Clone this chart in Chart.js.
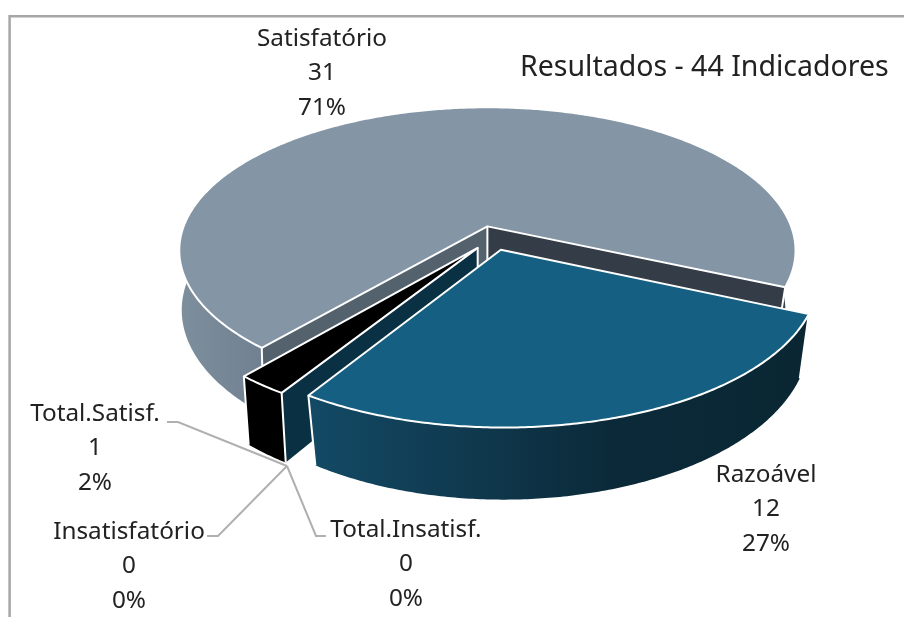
<!DOCTYPE html>
<html><head><meta charset="utf-8">
<style>html,body{margin:0;padding:0;background:#fff}canvas{display:block}</style>
<script src="https://cdn.jsdelivr.net/npm/chart.js@4"></script>
</head><body>
<canvas id="c" width="904" height="617"></canvas>
<script>
const categories = ['Total.Satisf.', 'Satisfatório', 'Razoável', 'Insatisfatório', 'Total.Insatisf.'];
const values = [1, 31, 12, 0, 0];
const percentLabels = ['2%', '71%', '27%', '0%', '0%'];
const titleText = 'Resultados - 44 Indicadores';

// Perspective view of the pie's plane
const view = {cx: 487, cy: 226, rx: 303.6, ry: 139, k: 0.168, du: 0.02, dv: 0.085, depth: 58};
function project(u, v) {
  const U = u + view.du, V = v + view.dv;
  const s = 1 / (1 - view.k * V);
  return {x: view.cx + view.rx * U * s, y: view.cy + view.ry * V * s, s};
}
function lowerOf(p, st) {
  const dx = p.x - view.cx;
  return {x: view.cx + dx * (1 - (dx < 0 ? st.shrinkL : st.shrinkR)), y: p.y + view.depth * p.s};
}
function poly(ctx, pts) {
  ctx.beginPath();
  pts.forEach((p, i) => i ? ctx.lineTo(p.x, p.y) : ctx.moveTo(p.x, p.y));
  ctx.closePath();
}
function hgrad(ctx, x0, x1, stops) {
  const g = ctx.createLinearGradient(x0, 0, x1, 0);
  stops.forEach(s => g.addColorStop(s[0], s[1]));
  return g;
}
const look = {
  1: {top: '#8496a6', shrinkL: 0.008, shrinkR: 0.033,
      side: c => hgrad(c, 180, 800, [[0, '#7d8e9d'], [0.14, '#708090'], [0.9, '#4a5764'], [0.97, '#39434d']]),
      wallEnd: '#343d47', wallStart: '#54626e'},
  2: {top: '#156082', shrinkL: 0.039, shrinkR: 0.028,
      side: c => hgrad(c, 308, 810, [[0, '#134a65'], [0.3, '#103a50'], [0.6, '#0b2a39'], [1, '#0a2633']]),
      wallEnd: null, wallStart: null},
  0: {top: '#000000', shrinkL: 0.02, shrinkR: 0.02, side: () => '#000000', wallEnd: null, wallStart: '#0a3044'}
};
function drawSlice(ctx, el, st) {
  const R = el.outerRadius, off = (el.options.offset || 0) / R;
  const mid = (el.startAngle + el.endAngle) / 2;
  const ax = Math.cos(mid) * off, ay = Math.sin(mid) * off;
  const apex = project(ax, ay);
  const rim = [];
  const n = Math.max(8, Math.ceil((el.endAngle - el.startAngle) / 0.01));
  for (let i = 0; i <= n; i++) {
    const a = el.startAngle + (el.endAngle - el.startAngle) * i / n;
    rim.push(project(ax + Math.cos(a), ay + Math.sin(a)));
  }
  const lower = p => lowerOf(p, st);
  const low = rim.map(lower), apexLow = lower(apex);
  const first = rim[0], last = rim[n];

  ctx.fillStyle = st.side(ctx);
  poly(ctx, rim.concat(low.slice().reverse()));
  ctx.fill();

  ctx.strokeStyle = '#ffffff'; ctx.lineWidth = 2; ctx.lineJoin = 'round';
  if (st.wallEnd) {
    ctx.fillStyle = st.wallEnd;
    poly(ctx, [apex, last, lower(last), apexLow]); ctx.fill();
  }
  if (st.wallStart) {
    ctx.fillStyle = st.wallStart;
    poly(ctx, [apex, first, lower(first), apexLow]); ctx.fill();
  }
  // vertical edges
  ctx.beginPath();
  if (st.wallEnd || st.wallStart) { ctx.moveTo(apex.x, apex.y); ctx.lineTo(apexLow.x, apexLow.y); }
  ctx.moveTo(first.x, first.y); ctx.lineTo(lower(first).x, lower(first).y);
  ctx.moveTo(last.x, last.y); ctx.lineTo(lower(last).x, lower(last).y);
  ctx.stroke();

  ctx.fillStyle = st.top;
  poly(ctx, [apex].concat(rim));
  ctx.fill();
  ctx.stroke();
}
const pie3d = {
  id: 'pie3d',
  beforeDatasetDraw(chart, args) {
    const ctx = chart.ctx, arcs = args.meta.data;
    ctx.save();
    [1, 0, 2].forEach(i => { if (values[i] > 0) drawSlice(ctx, arcs[i], look[i]); });
    ctx.restore();
    return false;
  },
  afterDraw(chart) {
    const ctx = chart.ctx;
    ctx.save();
    // frame
    ctx.strokeStyle = '#a6a6a6'; ctx.lineWidth = 2.5;
    ctx.beginPath(); ctx.moveTo(9.6, 617); ctx.lineTo(9.6, 16.2); ctx.lineTo(904, 16.2); ctx.stroke();
    // leaders
    ctx.strokeStyle = '#b0b0b0'; ctx.lineWidth = 2;
    [[[167, 422], [178, 422], [287, 466]], [[207, 536], [218, 536], [287, 466]], [[326, 536], [316, 536], [287, 466]]].forEach(l => {
      ctx.beginPath(); l.forEach((p, i) => i ? ctx.lineTo(p[0], p[1]) : ctx.moveTo(p[0], p[1])); ctx.stroke();
    });
    // labels
    const spots = {0: [95, 414], 1: [322, 39], 2: [766, 475], 3: [129, 532], 4: [406, 530]};
    ctx.fillStyle = '#222222'; ctx.textAlign = 'center'; ctx.textBaseline = 'middle';
    ctx.font = '24.3px "Noto Sans"';
    categories.forEach((name, i) => {
      const [x, y] = spots[i];
      [name, String(values[i]), percentLabels[i]].forEach((t, j) => ctx.fillText(t, x, y + j * 34.3));
    });
    ctx.textAlign = 'left';
    ctx.font = '28.5px "Noto Sans"';
    ctx.fillText(titleText, 520, 68);
    ctx.restore();
  }
};
new Chart(document.getElementById('c'), {
  type: 'pie',
  data: {labels: categories, datasets: [{data: values, offset: 25, borderWidth: 0, backgroundColor: ['#000000', '#8496a6', '#156082', '#0a3044', '#0a3044']}]},
  options: {
    responsive: false, animation: false, rotation: 212.2,
    plugins: {legend: {display: false}, tooltip: {enabled: false}, title: {display: false}}
  },
  plugins: [pie3d]
});
</script>
</body></html>
